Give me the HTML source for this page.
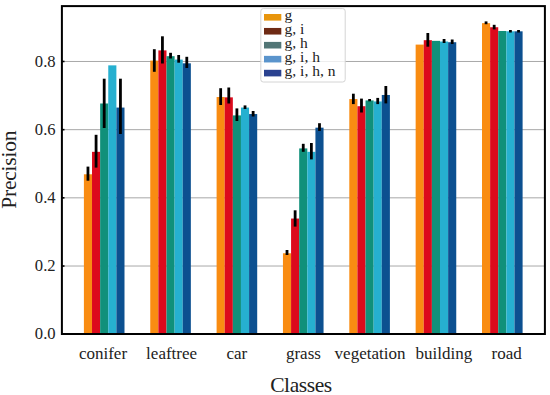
<!DOCTYPE html><html><head><meta charset="utf-8"><style>html,body{margin:0;padding:0;background:#fff;}svg{display:block;}text{font-family:"Liberation Serif",serif;fill:#222;}</style></head><body>
<svg width="550" height="395" viewBox="0 0 550 395">
<rect width="550" height="395" fill="#fff"/>
<line x1="61.9" y1="266.02" x2="544.9" y2="266.02" stroke="#a8a8a8" stroke-width="1"/>
<line x1="61.9" y1="197.84" x2="544.9" y2="197.84" stroke="#a8a8a8" stroke-width="1"/>
<line x1="61.9" y1="129.66" x2="544.9" y2="129.66" stroke="#a8a8a8" stroke-width="1"/>
<line x1="61.9" y1="61.48" x2="544.9" y2="61.48" stroke="#a8a8a8" stroke-width="1"/>
<rect x="83.90" y="174.29" width="8.12" height="159.91" fill="#F98C12"/>
<rect x="92.02" y="151.83" width="8.12" height="182.37" fill="#DC0A1C"/>
<rect x="100.14" y="103.49" width="8.12" height="230.71" fill="#10907A"/>
<rect x="108.26" y="65.36" width="8.12" height="268.84" fill="#26B0D0"/>
<rect x="116.38" y="107.57" width="8.12" height="226.63" fill="#0C5090"/>
<rect x="150.25" y="60.60" width="8.12" height="273.60" fill="#F98C12"/>
<rect x="158.37" y="50.39" width="8.12" height="283.81" fill="#DC0A1C"/>
<rect x="166.49" y="56.17" width="8.12" height="278.03" fill="#10907A"/>
<rect x="174.61" y="59.58" width="8.12" height="274.62" fill="#26B0D0"/>
<rect x="182.73" y="63.32" width="8.12" height="270.88" fill="#0C5090"/>
<rect x="216.60" y="97.02" width="8.12" height="237.18" fill="#F98C12"/>
<rect x="224.72" y="97.36" width="8.12" height="236.84" fill="#DC0A1C"/>
<rect x="232.84" y="115.40" width="8.12" height="218.80" fill="#10907A"/>
<rect x="240.96" y="107.57" width="8.12" height="226.63" fill="#26B0D0"/>
<rect x="249.08" y="114.04" width="8.12" height="220.16" fill="#0C5090"/>
<rect x="282.95" y="253.27" width="8.12" height="80.93" fill="#F98C12"/>
<rect x="291.07" y="218.54" width="8.12" height="115.66" fill="#DC0A1C"/>
<rect x="299.19" y="148.42" width="8.12" height="185.78" fill="#10907A"/>
<rect x="307.31" y="151.83" width="8.12" height="182.37" fill="#26B0D0"/>
<rect x="315.43" y="127.66" width="8.12" height="206.54" fill="#0C5090"/>
<rect x="349.30" y="99.06" width="8.12" height="235.14" fill="#F98C12"/>
<rect x="357.42" y="106.21" width="8.12" height="227.99" fill="#DC0A1C"/>
<rect x="365.54" y="100.43" width="8.12" height="233.77" fill="#10907A"/>
<rect x="373.66" y="101.45" width="8.12" height="232.75" fill="#26B0D0"/>
<rect x="381.78" y="94.98" width="8.12" height="239.22" fill="#0C5090"/>
<rect x="415.65" y="44.60" width="8.12" height="289.60" fill="#F98C12"/>
<rect x="423.77" y="40.18" width="8.12" height="294.02" fill="#DC0A1C"/>
<rect x="431.89" y="40.86" width="8.12" height="293.34" fill="#10907A"/>
<rect x="440.01" y="41.54" width="8.12" height="292.66" fill="#26B0D0"/>
<rect x="448.13" y="42.22" width="8.12" height="291.98" fill="#0C5090"/>
<rect x="482.00" y="23.16" width="8.12" height="311.04" fill="#F98C12"/>
<rect x="490.12" y="27.24" width="8.12" height="306.96" fill="#DC0A1C"/>
<rect x="498.24" y="30.98" width="8.12" height="303.22" fill="#10907A"/>
<rect x="506.36" y="31.32" width="8.12" height="302.88" fill="#26B0D0"/>
<rect x="514.48" y="31.32" width="8.12" height="302.88" fill="#0C5090"/>
<line x1="87.96" y1="166.60" x2="87.96" y2="180.70" stroke="#000" stroke-width="2.8"/>
<line x1="96.08" y1="134.80" x2="96.08" y2="167.60" stroke="#000" stroke-width="2.8"/>
<line x1="104.20" y1="78.70" x2="104.20" y2="128.00" stroke="#000" stroke-width="2.8"/>
<line x1="120.44" y1="78.70" x2="120.44" y2="134.00" stroke="#000" stroke-width="2.8"/>
<line x1="154.31" y1="49.20" x2="154.31" y2="71.80" stroke="#000" stroke-width="2.8"/>
<line x1="162.43" y1="36.30" x2="162.43" y2="63.50" stroke="#000" stroke-width="2.8"/>
<line x1="170.55" y1="52.80" x2="170.55" y2="58.50" stroke="#000" stroke-width="2.8"/>
<line x1="178.67" y1="55.00" x2="178.67" y2="62.70" stroke="#000" stroke-width="2.8"/>
<line x1="186.79" y1="56.80" x2="186.79" y2="68.00" stroke="#000" stroke-width="2.8"/>
<line x1="220.66" y1="88.20" x2="220.66" y2="105.00" stroke="#000" stroke-width="2.8"/>
<line x1="228.78" y1="87.50" x2="228.78" y2="103.50" stroke="#000" stroke-width="2.8"/>
<line x1="236.90" y1="108.40" x2="236.90" y2="121.00" stroke="#000" stroke-width="2.8"/>
<line x1="245.02" y1="105.40" x2="245.02" y2="109.00" stroke="#000" stroke-width="2.8"/>
<line x1="253.14" y1="111.00" x2="253.14" y2="116.50" stroke="#000" stroke-width="2.8"/>
<line x1="287.01" y1="250.00" x2="287.01" y2="255.00" stroke="#000" stroke-width="2.8"/>
<line x1="295.13" y1="210.30" x2="295.13" y2="226.60" stroke="#000" stroke-width="2.8"/>
<line x1="303.25" y1="143.80" x2="303.25" y2="151.80" stroke="#000" stroke-width="2.8"/>
<line x1="311.37" y1="143.00" x2="311.37" y2="159.40" stroke="#000" stroke-width="2.8"/>
<line x1="319.49" y1="123.20" x2="319.49" y2="130.90" stroke="#000" stroke-width="2.8"/>
<line x1="353.36" y1="93.70" x2="353.36" y2="104.10" stroke="#000" stroke-width="2.8"/>
<line x1="361.48" y1="98.60" x2="361.48" y2="112.50" stroke="#000" stroke-width="2.8"/>
<line x1="369.60" y1="99.00" x2="369.60" y2="101.30" stroke="#000" stroke-width="2.8"/>
<line x1="377.72" y1="97.90" x2="377.72" y2="104.10" stroke="#000" stroke-width="2.8"/>
<line x1="385.84" y1="86.00" x2="385.84" y2="103.40" stroke="#000" stroke-width="2.8"/>
<line x1="427.83" y1="33.00" x2="427.83" y2="46.70" stroke="#000" stroke-width="2.8"/>
<line x1="444.07" y1="39.00" x2="444.07" y2="43.00" stroke="#000" stroke-width="2.8"/>
<line x1="452.19" y1="39.50" x2="452.19" y2="44.00" stroke="#000" stroke-width="2.8"/>
<line x1="486.06" y1="21.40" x2="486.06" y2="24.20" stroke="#000" stroke-width="2.8"/>
<line x1="494.18" y1="24.80" x2="494.18" y2="29.40" stroke="#000" stroke-width="2.8"/>
<line x1="510.42" y1="30.00" x2="510.42" y2="32.50" stroke="#000" stroke-width="2.8"/>
<line x1="518.54" y1="30.00" x2="518.54" y2="32.50" stroke="#000" stroke-width="2.8"/>
<rect x="61.9" y="6.1" width="483.00" height="327.90" fill="none" stroke="#000" stroke-width="2"/>
<line x1="61.9" y1="334.20" x2="64.50" y2="334.20" stroke="#000" stroke-width="1.6"/>
<text x="55.6" y="339.30" font-size="16.6" text-anchor="end">0.0</text>
<line x1="61.9" y1="266.02" x2="64.50" y2="266.02" stroke="#000" stroke-width="1.6"/>
<text x="55.6" y="271.12" font-size="16.6" text-anchor="end">0.2</text>
<line x1="61.9" y1="197.84" x2="64.50" y2="197.84" stroke="#000" stroke-width="1.6"/>
<text x="55.6" y="202.94" font-size="16.6" text-anchor="end">0.4</text>
<line x1="61.9" y1="129.66" x2="64.50" y2="129.66" stroke="#000" stroke-width="1.6"/>
<text x="55.6" y="134.76" font-size="16.6" text-anchor="end">0.6</text>
<line x1="61.9" y1="61.48" x2="64.50" y2="61.48" stroke="#000" stroke-width="1.6"/>
<text x="55.6" y="66.58" font-size="16.6" text-anchor="end">0.8</text>
<text x="103.00" y="358.9" font-size="17" text-anchor="middle">conifer</text>
<text x="171.60" y="358.9" font-size="17" text-anchor="middle">leaftree</text>
<text x="236.90" y="358.9" font-size="17" text-anchor="middle">car</text>
<text x="303.40" y="358.9" font-size="17" text-anchor="middle">grass</text>
<text x="370.00" y="358.9" font-size="17" text-anchor="middle">vegetation</text>
<text x="443.90" y="358.9" font-size="17" text-anchor="middle">building</text>
<text x="506.70" y="358.9" font-size="17" text-anchor="middle">road</text>
<text x="301.0" y="392.4" font-size="21.5" letter-spacing="-0.4" text-anchor="middle">Classes</text>
<text transform="translate(16.4,169.7) rotate(-90)" x="0" y="0" font-size="21.5" letter-spacing="-0.2" text-anchor="middle">Precision</text>
<rect x="260.8" y="8.6" width="84.4" height="73.4" rx="2.5" ry="2.5" fill="#fff" fill-opacity="0.8" stroke="#d4d4d4" stroke-width="1"/>
<rect x="264" y="14.00" width="17.3" height="6.6" fill="#E8950C"/>
<text x="284.6" y="20.30" font-size="15.5">g</text>
<rect x="264" y="27.95" width="17.3" height="6.6" fill="#6E2A14"/>
<text x="284.6" y="34.25" font-size="15.5">g, i</text>
<rect x="264" y="41.90" width="17.3" height="6.6" fill="#527676"/>
<text x="284.6" y="48.20" font-size="15.5">g, h</text>
<rect x="264" y="55.85" width="17.3" height="6.6" fill="#5A94CC"/>
<text x="284.6" y="62.15" font-size="15.5">g, i, h</text>
<rect x="264" y="69.80" width="17.3" height="6.6" fill="#2A4290"/>
<text x="284.6" y="76.10" font-size="15.5">g, i, h, n</text>
</svg></body></html>
